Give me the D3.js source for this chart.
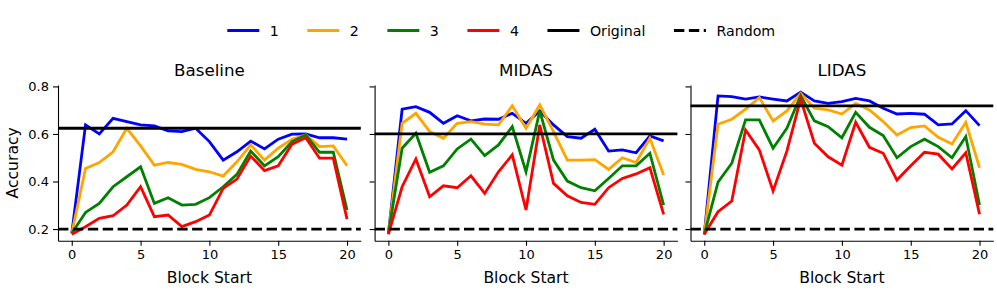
<!DOCTYPE html>
<html>
<head>
<meta charset="utf-8">
<script src="https://cdn.jsdelivr.net/npm/d3@7"></script>
<style>
  html, body { margin: 0; padding: 0; background: #fff; }
  svg { display: block; font-family: "DejaVu Sans", sans-serif; }
</style>
</head>
<body>
<svg id="chart" width="997" height="291"></svg>
<script>
// ---- data ----
const blockStarts = d3.range(0, 21);
const panelTitles = ["Baseline", "MIDAS", "LIDAS"];
const seriesNames = ["1", "2", "3", "4"];
const seriesColors = ["#0000ff", "#ffa500", "#008000", "#ff0000"];
const xTicks = [0, 5, 10, 15, 20];
const yTicks = [0.2, 0.4, 0.6, 0.8];
const originalAcc = [0.624, 0.600, 0.718];
const randomAcc = 0.2;

const baseline1 = [0.182, 0.638, 0.600, 0.666, 0.652, 0.638, 0.634, 0.613, 0.610, 0.624, 0.568, 0.490, 0.525, 0.570, 0.537, 0.578, 0.599, 0.600, 0.584, 0.584, 0.578];
const baseline2 = [0.182, 0.455, 0.480, 0.525, 0.624, 0.550, 0.469, 0.480, 0.472, 0.451, 0.441, 0.423, 0.483, 0.554, 0.490, 0.540, 0.578, 0.596, 0.547, 0.550, 0.466];
const baseline3 = [0.182, 0.270, 0.308, 0.378, 0.420, 0.462, 0.308, 0.332, 0.301, 0.304, 0.332, 0.378, 0.430, 0.528, 0.466, 0.504, 0.568, 0.596, 0.523, 0.523, 0.280];
const baseline4 = [0.178, 0.210, 0.245, 0.256, 0.301, 0.378, 0.252, 0.259, 0.210, 0.231, 0.259, 0.371, 0.410, 0.507, 0.446, 0.466, 0.557, 0.584, 0.498, 0.498, 0.242];

const midas1 = [0.180, 0.704, 0.715, 0.691, 0.645, 0.677, 0.655, 0.663, 0.662, 0.687, 0.645, 0.697, 0.638, 0.589, 0.582, 0.620, 0.528, 0.533, 0.521, 0.592, 0.571];
const midas2 = [0.180, 0.645, 0.687, 0.610, 0.582, 0.645, 0.652, 0.641, 0.638, 0.719, 0.624, 0.722, 0.610, 0.490, 0.490, 0.492, 0.451, 0.500, 0.480, 0.582, 0.427];
const midas3 = [0.180, 0.540, 0.603, 0.439, 0.466, 0.537, 0.578, 0.509, 0.554, 0.631, 0.441, 0.697, 0.490, 0.402, 0.374, 0.361, 0.413, 0.466, 0.466, 0.519, 0.301];
const midas4 = [0.178, 0.378, 0.495, 0.336, 0.382, 0.374, 0.424, 0.350, 0.441, 0.512, 0.280, 0.638, 0.392, 0.340, 0.312, 0.304, 0.374, 0.413, 0.432, 0.458, 0.262];

const lidas1 = [0.178, 0.760, 0.757, 0.747, 0.756, 0.747, 0.739, 0.776, 0.739, 0.729, 0.736, 0.750, 0.739, 0.708, 0.684, 0.687, 0.683, 0.638, 0.642, 0.698, 0.635];
const lidas2 = [0.178, 0.641, 0.662, 0.704, 0.753, 0.655, 0.697, 0.771, 0.708, 0.701, 0.684, 0.729, 0.701, 0.652, 0.596, 0.627, 0.634, 0.586, 0.558, 0.649, 0.458];
const lidas3 = [0.178, 0.397, 0.477, 0.659, 0.659, 0.540, 0.624, 0.761, 0.655, 0.631, 0.584, 0.691, 0.628, 0.593, 0.500, 0.547, 0.578, 0.547, 0.500, 0.589, 0.301];
const lidas4 = [0.178, 0.273, 0.318, 0.617, 0.533, 0.360, 0.528, 0.747, 0.561, 0.504, 0.469, 0.649, 0.544, 0.519, 0.406, 0.466, 0.523, 0.515, 0.453, 0.521, 0.262];

const panelSeries = [
  [baseline1, baseline2, baseline3, baseline4],
  [midas1, midas2, midas3, midas4],
  [lidas1, lidas2, lidas3, lidas4]
];

// ---- layout ----
const svg = d3.select("#chart");
const panelLeft = [58, 374.6, 690.5];
const panelWidth = 302.8;
const plotTop = 85, plotBottom = 240.7;
const lineW = 2.8;

const y = d3.scaleLinear().domain([0.151, 0.806]).range([plotBottom, plotTop]);

panelTitles.forEach((title, p) => {
  const x = d3.scaleLinear().domain([-1, 21]).range([panelLeft[p], panelLeft[p] + panelWidth]);
  const g = svg.append("g");

  // x axis
  const xa = g.append("g")
    .attr("transform", `translate(0,${plotBottom})`)
    .call(d3.axisBottom(x).tickValues(xTicks).tickFormat(d3.format("d")).tickSize(5).tickPadding(4).tickSizeOuter(0));
  xa.select(".domain").attr("stroke", "#000").attr("stroke-width", 1.1);
  xa.selectAll(".tick line").attr("stroke", "#000").attr("stroke-width", 1.1);
  xa.selectAll("text").attr("font-size", 13).attr("font-family", "DejaVu Sans").attr("fill", "#000");

  // y axis
  const ya = g.append("g")
    .attr("transform", `translate(${panelLeft[p]},0)`)
    .call(d3.axisLeft(y).tickValues(yTicks).tickFormat(d3.format(".1f")).tickSize(5).tickPadding(4).tickSizeOuter(0));
  ya.select(".domain").attr("stroke", "#000").attr("stroke-width", 1.1);
  ya.selectAll(".tick line").attr("stroke", "#000").attr("stroke-width", 1.1);
  ya.selectAll("text").attr("font-size", 13).attr("font-family", "DejaVu Sans").attr("fill", "#000");
  if (p > 0) ya.selectAll("text").remove();

  // series lines
  const line = d3.line().x((d, i) => x(blockStarts[i])).y(d => y(d));
  panelSeries[p].forEach((vals, s) => {
    g.append("path").datum(vals)
      .attr("d", line)
      .attr("fill", "none")
      .attr("stroke", seriesColors[s])
      .attr("stroke-width", lineW)
      .attr("stroke-linejoin", "miter")
      .attr("stroke-linecap", "butt");
  });

  // reference lines
  g.append("line")
    .attr("x1", x(-1)).attr("x2", x(21))
    .attr("y1", y(originalAcc[p])).attr("y2", y(originalAcc[p]))
    .attr("stroke", "#000").attr("stroke-width", lineW);
  g.append("line")
    .attr("x1", x(-1)).attr("x2", x(21))
    .attr("y1", y(randomAcc)).attr("y2", y(randomAcc))
    .attr("stroke", "#000").attr("stroke-width", lineW)
    .attr("stroke-dasharray", "10.4,4.5");

  // title
  g.append("text")
    .attr("x", panelLeft[p] + panelWidth / 2).attr("y", 75.7)
    .attr("text-anchor", "middle")
    .attr("font-size", 16.7).attr("fill", "#000")
    .text(title);

  // x label
  g.append("text")
    .attr("x", panelLeft[p] + panelWidth / 2).attr("y", 283.3)
    .attr("text-anchor", "middle")
    .attr("font-size", 15.6).attr("fill", "#000")
    .text("Block Start");
});

// y label
svg.append("text")
  .attr("transform", `translate(17.5,${(plotTop + plotBottom) / 2}) rotate(-90)`)
  .attr("text-anchor", "middle")
  .attr("font-size", 15.6).attr("fill", "#000")
  .text("Accuracy");

// legend
const legendItems = seriesNames.map((n, i) => ({ label: n, color: seriesColors[i], dash: null }))
  .concat([{ label: "Original", color: "#000", dash: null }, { label: "Random", color: "#000", dash: "10.4,4.5" }]);
const legend = svg.append("g");
let lx = 227.3;
const ly = 30.5;
legendItems.forEach(item => {
  legend.append("line")
    .attr("x1", lx).attr("x2", lx + 32)
    .attr("y1", ly).attr("y2", ly)
    .attr("stroke", item.color).attr("stroke-width", 3)
    .attr("stroke-dasharray", item.dash);
  const t = legend.append("text")
    .attr("x", lx + 42.5).attr("y", ly + 5.2)
    .attr("font-size", 14.2).attr("fill", "#000")
    .text(item.label);
  const w = t.node().getComputedTextLength();
  lx = lx + 42.5 + w + 28.5;
});
</script>
</body>
</html>
